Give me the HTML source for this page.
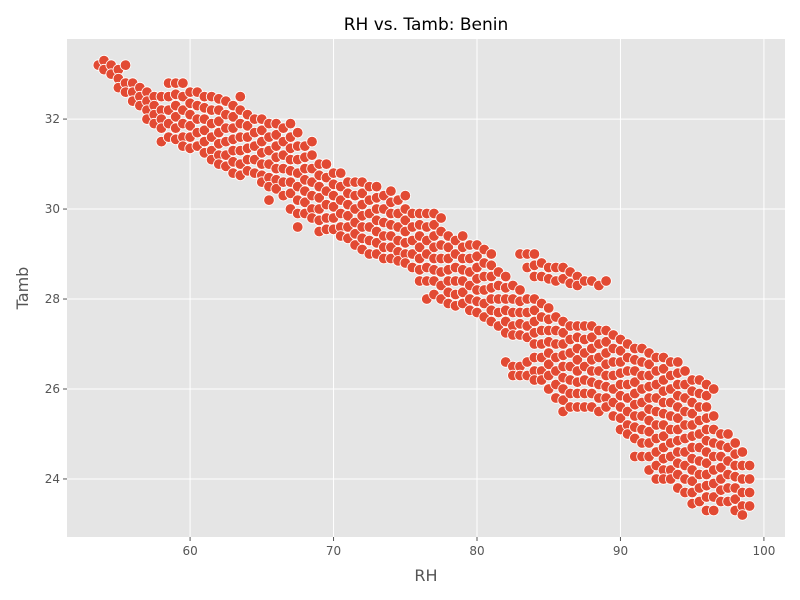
<!DOCTYPE html>
<html>
<head>
<meta charset="utf-8">
<style>
  html,body{margin:0;padding:0;background:#fff;}
  svg{display:block;font-family:"DejaVu Sans","Liberation Sans",sans-serif;}
</style>
</head>
<body>
<svg id="chart" width="800" height="600" viewBox="0 0 800 600" xmlns="http://www.w3.org/2000/svg">
  <rect x="0" y="0" width="800" height="600" fill="#ffffff"/>
  <rect x="67" y="39" width="718" height="498" fill="#E5E5E5"/>
  <g id="grid"></g>
  <g id="points"></g>
  <g id="xticks"></g>
  <g id="yticks"></g>
  <text x="426" y="30" text-anchor="middle" font-size="17" fill="#000">RH vs. Tamb: Benin</text>
  <text x="426" y="581" text-anchor="middle" font-size="16" fill="#555">RH</text>
  <text x="28" y="288" text-anchor="middle" font-size="16" fill="#555" transform="rotate(-90 28 288)">Tamb</text>
</svg>
<script>
const xTicks = [60, 70, 80, 90, 100];
const yTicks = [24, 26, 28, 30, 32];
const rhCols = [53.6,54,54.5,55,55.5,56,56.5,57,57.5,58,58.5,59,59.5,60,60.5,61,61.5,62,62.5,63,63.5,64,64.5,65,65.5,66,66.5,67,67.5,68,68.5,69,69.5,70,70.5,71,71.5,72,72.5,73,73.5,74,74.5,75,75.5,76,76.5,77,77.5,78,78.5,79,79.5,80,80.5,81,81.5,82,82.5,83,83.5,84,84.5,85,85.5,86,86.5,87,87.5,88,88.5,89,89.5,90,90.5,91,91.5,92,92.5,93,93.5,94,94.5,95,95.5,96,96.5,97,97.5,98,98.5,99];
const tambCols = [
[33.2],[33.3,33.1],[33.2,33.0],[33.1,32.9,32.7],[33.2,32.8,32.6],[32.8,32.6,32.4],[32.7,32.5,32.3],
[32.6,32.4,32.2,32.0],[32.5,32.3,32.1,31.9],[32.5,32.2,32.0,31.8,31.5],[32.8,32.5,32.2,31.9,31.6],
[32.8,32.55,32.3,32.05,31.8,31.55],[32.8,32.5,32.2,31.9,31.6,31.4],[32.6,32.35,32.1,31.85,31.6,31.35],
[32.6,32.3,32.0,31.7,31.4],[32.5,32.25,32.0,31.75,31.5,31.25],[32.5,32.2,31.9,31.6,31.3,31.1],
[32.45,32.2,31.95,31.7,31.45,31.2,31.0],[32.4,32.1,31.8,31.5,31.2,30.95],[32.3,32.05,31.8,31.55,31.3,31.05,30.8],
[32.5,32.2,31.9,31.6,31.3,31.0,30.75],[32.1,31.85,31.6,31.35,31.1,30.85],[32.0,31.7,31.4,31.1,30.8],
[32.0,31.75,31.5,31.25,31.0,30.75,30.6],[31.9,31.6,31.3,31.0,30.7,30.5,30.2],[31.9,31.65,31.4,31.15,30.9,30.65,30.45],
[31.8,31.5,31.2,30.9,30.6,30.3],[31.9,31.6,31.35,31.1,30.85,30.6,30.35,30.0],[31.7,31.4,31.1,30.8,30.5,30.2,29.9,29.6],
[31.4,31.15,30.9,30.65,30.4,30.15,29.9],[31.5,31.2,30.9,30.6,30.3,30.0,29.8],[31.0,30.75,30.5,30.25,30.0,29.75,29.5],
[31.0,30.7,30.4,30.1,29.8,29.55],[30.8,30.55,30.3,30.05,29.8,29.55],[30.8,30.5,30.2,29.9,29.6,29.4],
[30.6,30.35,30.1,29.85,29.6,29.35],[30.6,30.3,30.0,29.7,29.45,29.2],[30.6,30.35,30.1,29.85,29.6,29.35,29.1],
[30.5,30.2,29.9,29.6,29.3,29.0],[30.5,30.25,30.0,29.75,29.5,29.25,29.0],[30.3,30.0,29.7,29.4,29.15,28.9],
[30.4,30.15,29.9,29.65,29.4,29.15,28.9],[30.2,29.9,29.6,29.3,29.05,28.85],[30.3,30.0,29.75,29.5,29.25,29.0,28.8],
[29.9,29.6,29.3,29.0,28.7],[29.9,29.65,29.4,29.15,28.9,28.65,28.4],[29.9,29.6,29.3,29.0,28.7,28.4,28.0],
[29.9,29.65,29.4,29.15,28.9,28.65,28.4,28.1],[29.8,29.5,29.2,28.9,28.6,28.3,28.0],[29.4,29.15,28.9,28.65,28.4,28.15,27.9],
[29.3,29.0,28.7,28.4,28.1,27.85],[29.4,29.15,28.9,28.65,28.4,28.15,27.9],[29.2,28.9,28.6,28.3,28.0,27.75],
[29.2,28.95,28.7,28.45,28.2,27.95,27.7],[29.1,28.8,28.5,28.2,27.9,27.6],[29.0,28.75,28.5,28.25,28.0,27.75,27.5],
[28.6,28.3,28.0,27.7,27.4],[28.5,28.25,28.0,27.75,27.5,27.25,26.6],[28.3,28.0,27.7,27.4,27.2,26.5,26.3],
[29.0,28.2,27.95,27.7,27.45,27.2,26.5,26.3],[29.0,28.7,28.0,27.7,27.4,27.15,26.6,26.3],
[29.0,28.75,28.5,28.0,27.75,27.5,27.25,27.0,26.7,26.4,26.2],[28.8,28.5,27.9,27.6,27.3,27.0,26.7,26.4,26.2],
[28.7,28.45,27.8,27.55,27.3,27.05,26.8,26.55,26.3,26.0],[28.7,28.4,27.6,27.3,27.0,26.7,26.4,26.1,25.8],
[28.7,28.45,27.5,27.25,27.0,26.75,26.5,26.25,26.0,25.75,25.5],[28.6,28.35,27.4,27.1,26.8,26.5,26.2,25.9,25.6],
[28.5,28.3,27.4,27.15,26.9,26.65,26.4,26.15,25.9,25.6],[28.4,27.4,27.1,26.8,26.5,26.2,25.9,25.6],
[28.4,27.4,27.15,26.9,26.65,26.4,26.15,25.9,25.6],[28.3,27.3,27.0,26.7,26.4,26.1,25.8,25.5],
[28.4,27.3,27.05,26.8,26.55,26.3,26.05,25.8,25.6],[27.2,26.9,26.6,26.3,26.0,25.7,25.4],
[27.1,26.85,26.6,26.35,26.1,25.85,25.6,25.35,25.1],[27.0,26.7,26.4,26.1,25.8,25.5,25.2,25.0],
[26.9,26.65,26.4,26.15,25.9,25.65,25.4,25.15,24.9,24.5],[26.9,26.6,26.3,26.0,25.7,25.4,25.1,24.8,24.5],
[26.8,26.55,26.3,26.05,25.8,25.55,25.3,25.05,24.8,24.5,24.2],[26.7,26.4,26.1,25.8,25.5,25.2,24.9,24.6,24.3,24.0],
[26.7,26.45,26.2,25.95,25.7,25.45,25.2,24.95,24.7,24.45,24.2,24.0],[26.6,26.3,26.0,25.7,25.4,25.1,24.8,24.5,24.2,24.0],
[26.6,26.35,26.1,25.85,25.6,25.35,25.1,24.85,24.6,24.35,24.1,23.8],[26.4,26.1,25.8,25.5,25.2,24.9,24.6,24.3,24.0,23.7],
[26.2,25.95,25.7,25.45,25.2,24.95,24.7,24.45,24.2,23.95,23.7,23.45],[26.2,25.9,25.6,25.3,25.0,24.7,24.4,24.1,23.8,23.5],
[26.1,25.85,25.6,25.35,25.1,24.85,24.6,24.35,24.1,23.85,23.6,23.3],[26.0,25.4,25.1,24.8,24.5,24.2,23.9,23.6,23.3],
[25.0,24.75,24.5,24.25,24.0,23.75,23.5],[25.0,24.7,24.4,24.1,23.8,23.5],
[24.8,24.55,24.3,24.05,23.8,23.55,23.3],[24.6,24.3,24.0,23.7,23.4,23.2],[24.3,24.0,23.7,23.4]
];

const NS = "http://www.w3.org/2000/svg";
const plot = {left:67, right:785, top:39, bottom:537};
const xMin = 51.42, xMax = 101.47, yMin = 22.71, yMax = 33.78;
function xScale(v){ return plot.left + (v - xMin) / (xMax - xMin) * (plot.right - plot.left); }
function yScale(v){ return plot.bottom - (v - yMin) / (yMax - yMin) * (plot.bottom - plot.top); }

const grid = document.getElementById('grid');
const xg = document.getElementById('xticks');
const yg = document.getElementById('yticks');
xTicks.forEach(t => {
  const x = xScale(t);
  const l = document.createElementNS(NS, 'line');
  l.setAttribute('x1', x); l.setAttribute('x2', x);
  l.setAttribute('y1', plot.top); l.setAttribute('y2', plot.bottom);
  l.setAttribute('stroke', '#fff'); l.setAttribute('stroke-width', '1');
  
  
  grid.appendChild(l);
  const tk = document.createElementNS(NS, 'line');
  tk.setAttribute('x1', x); tk.setAttribute('x2', x);
  tk.setAttribute('y1', plot.bottom); tk.setAttribute('y2', plot.bottom + 4);
  tk.setAttribute('stroke', '#555');
  
  
  xg.appendChild(tk);
  const tx = document.createElementNS(NS, 'text');
  tx.setAttribute('x', x); tx.setAttribute('y', plot.bottom + 18);
  tx.setAttribute('text-anchor', 'middle'); tx.setAttribute('font-size', '12'); tx.setAttribute('fill', '#555');
  tx.textContent = t;
  
  
  xg.appendChild(tx);
});
yTicks.forEach(t => {
  const y = yScale(t);
  const l = document.createElementNS(NS, 'line');
  l.setAttribute('x1', plot.left); l.setAttribute('x2', plot.right);
  l.setAttribute('y1', y); l.setAttribute('y2', y);
  l.setAttribute('stroke', '#fff'); l.setAttribute('stroke-width', '1');
  
  
  grid.appendChild(l);
  const tk = document.createElementNS(NS, 'line');
  tk.setAttribute('x1', plot.left - 4); tk.setAttribute('x2', plot.left);
  tk.setAttribute('y1', y); tk.setAttribute('y2', y);
  tk.setAttribute('stroke', '#555');
  
  
  yg.appendChild(tk);
  const tx = document.createElementNS(NS, 'text');
  tx.setAttribute('x', plot.left - 7); tx.setAttribute('y', y + 4);
  tx.setAttribute('text-anchor', 'end'); tx.setAttribute('font-size', '12'); tx.setAttribute('fill', '#555');
  tx.textContent = t;
  
  
  yg.appendChild(tx);
});

const pg = document.getElementById('points');
rhCols.forEach((rh, i) => {
  tambCols[i].forEach(t => {
    const c = document.createElementNS(NS, 'circle');
    c.setAttribute('cx', xScale(rh).toFixed(1));
    c.setAttribute('cy', yScale(t).toFixed(1));
    c.setAttribute('r', '5.3');
    c.setAttribute('fill', '#E24A33');
    c.setAttribute('stroke', '#fff');
    c.setAttribute('stroke-width', '0.8');
    
    
    pg.appendChild(c);
  });
});
</script>
</body>
</html>
